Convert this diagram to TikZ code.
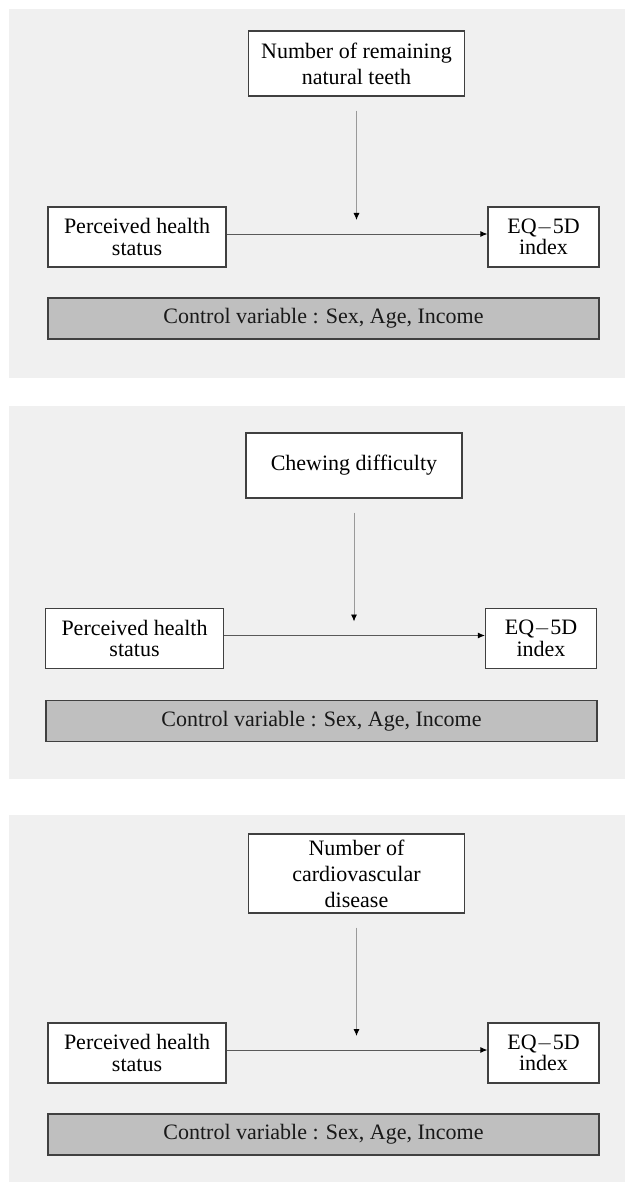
\documentclass[tikz,border=0pt]{standalone}
\usepackage{fontspec}
\setmainfont{Liberation Serif}
\usetikzlibrary{arrows.meta,calc}

\definecolor{panelbg}{HTML}{F0F0F0}
\definecolor{barfill}{HTML}{BFBFBF}
\definecolor{boxline}{HTML}{404040}

\begin{document}
\begin{tikzpicture}[x=1pt, y=-1pt, font=\fontsize{22}{21.5}\selectfont,
  var/.style={draw=boxline, line width=1.2pt, fill=white, text=black,
    align=center, inner sep=0pt, minimum height=60pt},
  topvar/.style={var, font=\fontsize{22}{26}\selectfont, minimum width=216pt, minimum height=65pt},
  ctrl/.style={draw=black!75, line width=1.6pt, fill=barfill, text=black!90,
    inner sep=0pt, minimum width=551pt, minimum height=41pt},
  link/.style={-{Latex[length=7pt,width=6pt,color=black]}, draw=black!65, line width=0.9pt},
  mod/.style={-{Latex[length=7pt,width=6pt,color=black]}, draw=black!40, line width=0.9pt}]
  \useasboundingbox (0,0) rectangle (625,1182);

  % panels
  \fill[panelbg] (9,9) rectangle (625,378);
  \fill[panelbg] (9,406) rectangle (625,779);
  \fill[panelbg] (9,815) rectangle (625,1182);

  % model 1
  \node[topvar] (t1) at (356.5,63.5) {Number of remaining\\natural teeth};
  \node[var, minimum width=178pt] (l1) at (137,237) {Perceived health\\status};
  \node[var, minimum width=111pt] (r1) at (543.5,237) {EQ$-$5D\\index};
  \node[ctrl] (c1) at (323.5,318.5) {Control variable : Sex, Age, Income};
  \coordinate (m1) at ([yshift=17pt]l1.east -| t1.south);
  \draw[link] ([yshift=3pt]l1.east) -- ([yshift=3pt]r1.west);
  \draw[mod] ([yshift=-14pt]t1.south) -- (m1);

  % model 2
  \node[topvar] (t2) at (354,465.5) {Chewing difficulty};
  \node[var, minimum width=178pt] (l2) at (134.5,638.5) {Perceived health\\status};
  \node[var, minimum width=111pt] (r2) at (541,638.5) {EQ$-$5D\\index};
  \node[ctrl] (c2) at (321.5,721) {Control variable : Sex, Age, Income};
  \coordinate (m2) at ([yshift=17pt]l2.east -| t2.south);
  \draw[link] ([yshift=3pt]l2.east) -- ([yshift=3pt]r2.west);
  \draw[mod] ([yshift=-14pt]t2.south) -- (m2);

  % model 3
  \node[topvar, minimum height=79pt] (t3) at (356.5,873.5) {Number of\\cardiovascular\\disease};
  \node[var, minimum width=178pt] (l3) at (137,1053) {Perceived health\\status};
  \node[var, minimum width=111pt] (r3) at (543.5,1053) {EQ$-$5D\\index};
  \node[ctrl] (c3) at (323.5,1134.5) {Control variable : Sex, Age, Income};
  \coordinate (m3) at ([yshift=17pt]l3.east -| t3.south);
  \draw[link] ([yshift=3pt]l3.east) -- ([yshift=3pt]r3.west);
  \draw[mod] ([yshift=-14pt]t3.south) -- (m3);
\end{tikzpicture}
\end{document}
